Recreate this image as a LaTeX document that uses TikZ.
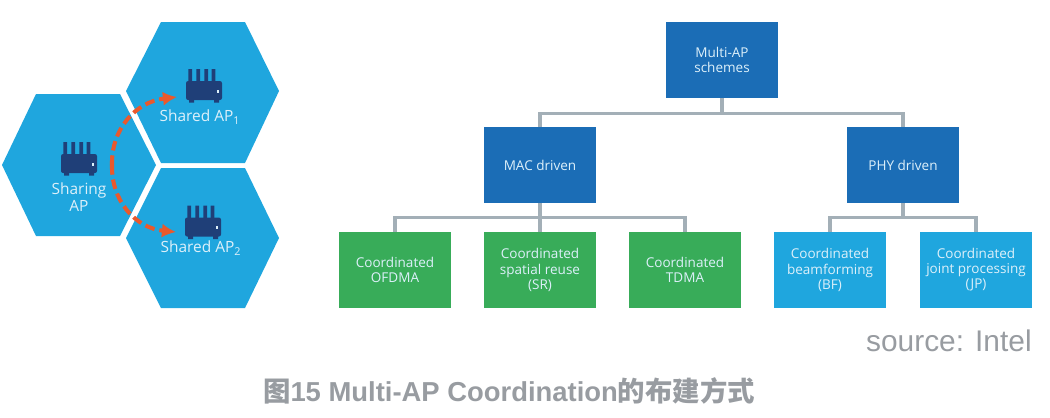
\documentclass[tikz,border=0pt]{standalone}
\usepackage{fontspec}
\setmainfont{Open Sans}
\newfontfamily\capfont{Liberation Sans}
\newfontfamily\cjkfont{Noto Sans CJK SC}
\usepackage{tikz}
\usetikzlibrary{arrows.meta,calc}
\definecolor{CELL}{HTML}{1FA6DE}
\definecolor{NAVY}{HTML}{1F3F78}
\definecolor{DARKBOX}{HTML}{1B6DB6}
\definecolor{GREENBOX}{HTML}{38AC59}
\definecolor{LINK}{HTML}{A3AFB7}
\definecolor{ORANGE}{HTML}{E9592D}
\definecolor{SOFT}{HTML}{DDF0FA}
\definecolor{GREYTXT}{HTML}{989CA1}

\begin{document}
\begin{tikzpicture}[x=0.02cm,y=-0.02cm]
\tikzset{hexcell/.style={fill=CELL},
 box/.style={minimum width=2.25cm,minimum height=1.52cm,inner sep=0pt,align=center,text=SOFT,
  font=\fontsize{7.7}{8.6}\selectfont},
 schemebox/.style={box,fill=DARKBOX},macbox/.style={box,fill=GREENBOX},phybox/.style={box,fill=CELL},
 link/.style={LINK,line width=2.1pt},
 cellname/.style={text=SOFT,align=center,inner sep=0pt,font=\fontsize{8.8}{10}\selectfont},
 hop/.style={ORANGE,line width=2.3pt,dash pattern=on 5.5pt off 2.8pt,-{Latex[length=8pt,width=8pt]}},
 router/.pic={
  \fill[NAVY] (2.3,-12) rectangle (6,1) (10.3,-12) rectangle (14,1) (18.3,-12) rectangle (22,1) (25.7,-12) rectangle (29.3,1);
  \fill[NAVY,rounded corners=1.2pt] (0,0) rectangle (36,19);
  \fill[NAVY] (3,18) rectangle (8,21.5) (28,18) rectangle (33,21.5);
  \fill[SOFT] (31,8.5) rectangle (32.6,11.5);}}
\useasboundingbox (0,0) rectangle (1050,417);
% three cells
\fill[hexcell] (2,165) -- (36,94) -- (120,94) -- (156,165) -- (120,236) -- (36,236) -- cycle;
\fill[hexcell] (126,91) -- (161,22) -- (245,22) -- (279,91) -- (245,163) -- (161,163) -- cycle;
\fill[hexcell] (126,238) -- (161,168) -- (245,168) -- (279,238) -- (245,308) -- (161,308) -- cycle;
\pic at (61,154) {router};
\pic at (186,81) {router};
\pic at (185,217.5) {router};
\node[cellname] (sharing) at (79,197) {Sharing\\AP};
\node[cellname] (sharedA) at (200,117) {Shared AP\textsubscript{1}};
\node[cellname] (sharedB) at (201,248) {Shared AP\textsubscript{2}};
\coordinate (hopmid) at (112,165);
\coordinate (hopA) at (177,97);
\coordinate (hopB) at (176,232);
\draw[hop] (hopmid) .. controls (111,130) and (135,102) .. (hopA);
\draw[hop] (hopmid) .. controls (111,200) and (135,228) .. (hopB);
% scheme tree
\node[schemebox] (root) at (722,60) {Multi-AP\\schemes};
\node[schemebox] (mac) at (540,165) {MAC driven};
\node[schemebox] (phy) at (903,165) {PHY driven};
\node[macbox] (ofdma) at (395,270) {Coordinated\\OFDMA};
\node[macbox] (sr) at (540,270) {Coordinated\\spatial reuse\\(SR)};
\node[macbox] (tdma) at (685,270) {Coordinated\\TDMA};
\node[phybox] (bf) at (830,270) {Coordinated\\beamforming\\(BF)};
\node[phybox] (jp) at (976,270) {Coordinated\\joint processing\\(JP)};
\draw[link] (root.south) -- ++(0,15) -| (mac.north);
\draw[link] (root.south) -- ++(0,15) -| (phy.north);
\draw[link] (mac.south) -- ++(0,14) -| (ofdma.north);
\draw[link] (mac.south) -- (sr.north);
\draw[link] (mac.south) -- ++(0,14) -| (tdma.north);
\draw[link] (phy.south) -- ++(0,14) -| (bf.north);
\draw[link] (phy.south) -- ++(0,14) -| (jp.north);
% source and caption
\node[anchor=east,inner sep=0pt,text=GREYTXT,font=\capfont\fontsize{17}{20}\selectfont] (source) at (1032,341) {source: Intel};
\node[inner sep=0pt,text=GREYTXT,font=\capfont\bfseries\fontsize{15.6}{18}\selectfont] (caption) at (509,391)
 {{\cjkfont\bfseries 图}15 Multi-AP Coordination{\cjkfont\bfseries 的布建方式}};
\end{tikzpicture}
\end{document}
